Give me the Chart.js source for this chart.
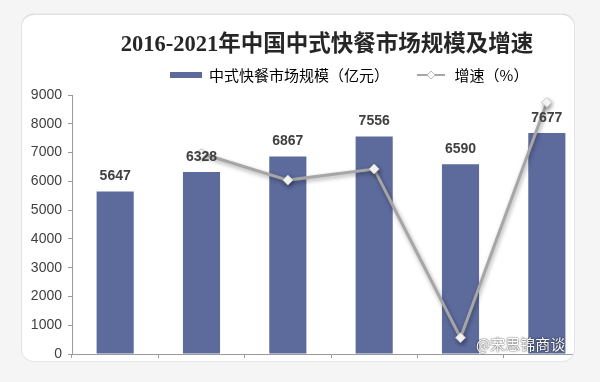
<!DOCTYPE html>
<html>
<head>
<meta charset="utf-8">
<script src="https://cdn.jsdelivr.net/npm/chart.js@4.4.1/dist/chart.umd.min.js"></script>
<style>
  html, body { margin: 0; padding: 0; }
  body { width: 600px; height: 382px; background: #f5f5f5; position: relative; overflow: hidden; }
  #card {
    position: absolute; left: 22px; top: 15px; width: 552px; height: 346px;
    background: #fff; border-radius: 12px; overflow: hidden;
    box-shadow: 0 0 0 1px #e4e4e4, 0 -1px 1px #8c8c8c;
  }
  #card canvas { position: absolute; left: -22px; top: -15px; }
  #mark {
    position: absolute; left: 476px; top: 333px; color: #fff;
    font: 15px "Noto Sans CJK SC", sans-serif;
    text-shadow: 0 0 2px rgba(0,0,0,.7), 0 0 1px rgba(0,0,0,.6);
  }
</style>
</head>
<body>
<div id="card"><canvas id="chart" width="600" height="382"></canvas></div>
<div id="mark">@宋思锦商谈</div>
<script>
// -------- DATA -------- //
const years = ['2016', '2017', '2018', '2019', '2020', '2021'];
const marketSize = [5647, 6328, 6867, 7556, 6590, 7677];   // 亿元
const growthRate = [null, 12.1, 8.5, 10.0, -12.8, 19.0];    // %
const sizeTicks = [0, 1000, 2000, 3000, 4000, 5000, 6000, 7000, 8000, 9000];

const barColor = '#5c6a9c';
const lineColor = '#a6a6a6';

// -------- LEGEND MARKERS -------- //
const barMarker = document.createElement('canvas');
barMarker.width = 32; barMarker.height = 6;
let mctx = barMarker.getContext('2d');
mctx.fillStyle = barColor;
mctx.fillRect(0, 0, 32, 6);

const lineMarker = document.createElement('canvas');
lineMarker.width = 28; lineMarker.height = 12;
mctx = lineMarker.getContext('2d');
mctx.strokeStyle = lineColor;
mctx.lineWidth = 2;
mctx.beginPath(); mctx.moveTo(0, 6); mctx.lineTo(28, 6); mctx.stroke();
mctx.fillStyle = '#fff';
mctx.strokeStyle = '#b5b5b5';
mctx.lineWidth = 1;
mctx.beginPath();
mctx.moveTo(14, 2); mctx.lineTo(18, 6); mctx.lineTo(14, 10); mctx.lineTo(10, 6); mctx.closePath();
mctx.fill(); mctx.stroke();

// -------- PLUGINS -------- //
const placeBoxes = {
  id: 'placeBoxes',
  afterLayout(chart) {
    const t = chart.titleBlock, l = chart.legend;
    t.left = 27; t.right = 627; t.top = 45 - 13.5;
    l.left = 49; l.right = 649; l.top = 75 - 26 - 7.5;
  }
};

const lineShadow = {
  id: 'lineShadow',
  beforeDatasetDraw(chart, args) {
    if (args.index !== 1) return;
    const ctx = chart.ctx;
    ctx.save();
    ctx.shadowColor = 'rgba(0,0,0,0.35)';
    ctx.shadowBlur = 4;
    ctx.shadowOffsetX = 1;
    ctx.shadowOffsetY = 2;
  },
  afterDatasetDraw(chart, args) {
    if (args.index === 1) chart.ctx.restore();
  }
};

const barLabels = {
  id: 'barLabels',
  afterDatasetsDraw(chart) {
    const ctx = chart.ctx;
    const meta = chart.getDatasetMeta(0);
    ctx.save();
    ctx.font = 'bold 14px "Liberation Sans", Arial, sans-serif';
    ctx.fillStyle = '#404040';
    ctx.textAlign = 'center';
    ctx.textBaseline = 'middle';
    meta.data.forEach((bar, i) => ctx.fillText(marketSize[i], bar.x, bar.y - 15));
    ctx.restore();
  }
};

// -------- CHART -------- //
const ctx = document.getElementById('chart');

new Chart(ctx, {
  data: {
    labels: years,
    datasets: [{
      type: 'bar',
      label: '中式快餐市场规模（亿元）',
      data: marketSize,
      backgroundColor: barColor,
      barPercentage: 0.43,
      categoryPercentage: 1,
      yAxisID: 'y',
      order: 1
    }, {
      type: 'line',
      label: '增速（%）',
      data: growthRate,
      borderColor: lineColor,
      borderWidth: 3,
      tension: 0,
      pointStyle: 'rectRot',
      pointRadius: 5,
      pointBackgroundColor: '#fff',
      pointBorderColor: '#c4c4c4',
      pointBorderWidth: 1,
      yAxisID: 'y1',
      order: 0
    }]
  },
  options: {
    responsive: false,
    animation: false,
    layout: { padding: { top: 17, left: 0, right: 10, bottom: 24 } },
    scales: {
      x: {
        ticks: { display: false },
        grid: { drawOnChartArea: false, tickLength: 4, color: '#9a9a9a' },
        border: { color: '#9a9a9a' }
      },
      y: {
        min: sizeTicks[0],
        max: sizeTicks[sizeTicks.length - 1],
        ticks: {
          stepSize: sizeTicks[1] - sizeTicks[0],
          color: '#404040',
          padding: 6,
          font: { family: '"Liberation Sans", Arial, sans-serif', size: 14 },
          callback: v => String(v)
        },
        grid: { drawOnChartArea: false, tickLength: 4, color: '#9a9a9a' },
        border: { color: '#9a9a9a' },
        afterFit(s) { s.width = 72; }
      },
      y1: {
        display: false,
        position: 'right',
        min: -15,
        max: 20
      }
    },
    plugins: {
      title: {
        display: true,
        text: '2016-2021年中国中式快餐市场规模及增速',
        color: '#262626',
        padding: 0,
        font: { family: '"Liberation Serif", "Noto Sans CJK SC", serif', size: 22.5, weight: 'bold' }
      },
      legend: {
        display: true,
        labels: {
          usePointStyle: true,
          pointStyleWidth: 32,
          padding: 26,
          color: '#333',
          font: { family: '"Noto Sans CJK SC", sans-serif', size: 15 },
          generateLabels() {
            return [
              { text: '中式快餐市场规模（亿元）', pointStyle: barMarker, fillStyle: barColor, strokeStyle: barColor, lineWidth: 0, hidden: false, datasetIndex: 0 },
              { text: '增速（%）', pointStyle: lineMarker, fillStyle: '#fff', strokeStyle: lineColor, lineWidth: 0, hidden: false, datasetIndex: 1 }
            ];
          }
        }
      },
      tooltip: { enabled: false }
    }
  },
  plugins: [placeBoxes, lineShadow, barLabels]
});
</script>
</body>
</html>
